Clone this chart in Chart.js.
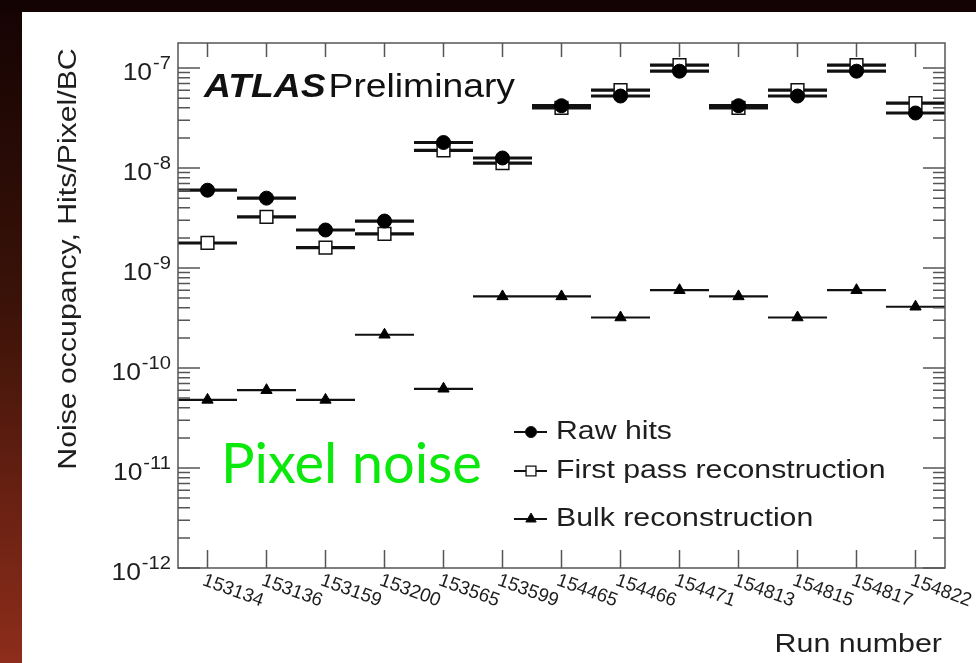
<!DOCTYPE html>
<html><head><meta charset="utf-8">
<script src="https://cdn.jsdelivr.net/npm/chart.js@4/dist/chart.umd.min.js"></script>
<style>html,body{margin:0;padding:0;background:#000;overflow:hidden} canvas{display:block}</style>
</head><body>
<canvas id="c" width="976" height="663"></canvas>
<script>
const runs = ['153134','153136','153159','153200','153565','153599','154465','154466','154471','154813','154815','154817','154822'];
const rawHits   = [6.0e-9, 5.0e-9, 2.4e-9, 2.95e-9, 1.8e-8, 1.26e-8, 4.2e-8, 5.25e-8, 9.3e-8, 4.2e-8, 5.25e-8, 9.3e-8, 3.55e-8];
const firstPass = [1.78e-9, 3.24e-9, 1.6e-9, 2.2e-9, 1.5e-8, 1.12e-8, 4.0e-8, 6.0e-8, 1.07e-7, 4.0e-8, 6.0e-8, 1.07e-7, 4.45e-8];
const bulk      = [4.8e-11, 6.0e-11, 4.8e-11, 2.15e-10, 6.2e-11, 5.2e-10, 5.2e-10, 3.2e-10, 6.0e-10, 5.2e-10, 3.2e-10, 6.0e-10, 4.1e-10];
const yTickExponents = [-12, -11, -10, -9, -8, -7];
const seriesNames = ['Raw hits', 'First pass reconstruction', 'Bulk reconstruction'];
const yTitle = 'Noise occupancy, Hits/Pixel/BC';
const xTitle = 'Run number';

const barWidths = [3.2, 3.2, 2.2];
const SANS = '"Liberation Sans", Arial, sans-serif';
const INK = '#1e1e1e';

function textScaled(ctx, txt, x, y, sx, align) {
  ctx.save();
  ctx.translate(x, y);
  ctx.scale(sx, 1);
  ctx.textAlign = align || 'left';
  ctx.fillText(txt, 0, 0);
  ctx.restore();
  return ctx.measureText(txt).width * sx;
}

const decor = {
  id: 'decor',
  beforeDraw(chart) {
    const ctx = chart.ctx;
    const g = ctx.createLinearGradient(0, 0, 0, 663);
    g.addColorStop(0, '#140303');
    g.addColorStop(0.45, '#3a1208');
    g.addColorStop(1, '#8e2d1b');
    ctx.save();
    ctx.fillStyle = g;
    ctx.fillRect(0, 0, 976, 663);
    ctx.fillStyle = '#140303';
    ctx.fillRect(0, 0, 976, 12);
    ctx.fillStyle = '#ffffff';
    ctx.fillRect(22, 12, 954, 651);
    ctx.restore();
  },
  beforeDatasetsDraw(chart) {
    const ctx = chart.ctx, xs = chart.scales.x, ys = chart.scales.y;
    const half = xs.width / runs.length / 2;
    ctx.save();
    ctx.strokeStyle = '#111';
    for (let d = chart.data.datasets.length - 1; d >= 0; d--) {
      ctx.lineWidth = barWidths[d];
      chart.data.datasets[d].data.forEach((v, i) => {
        const x = xs.getPixelForValue(i), y = ys.getPixelForValue(v);
        ctx.beginPath();
        ctx.moveTo(Math.max(x - half, xs.left), y);
        ctx.lineTo(Math.min(x + half, xs.right), y);
        ctx.stroke();
      });
    }
    ctx.restore();
  },
  afterDraw(chart) {
    const ctx = chart.ctx, xs = chart.scales.x, ys = chart.scales.y;
    const ca = chart.chartArea;
    ctx.save();
    // frame
    ctx.strokeStyle = '#555';
    ctx.lineWidth = 1.5;
    ctx.strokeRect(ca.left, ca.top, ca.right - ca.left, ca.bottom - ca.top);
    // y ticks
    ctx.beginPath();
    yTickExponents.forEach((e) => {
      for (let k = 1; k <= 9; k++) {
        const v = k * Math.pow(10, e);
        if (v > ys.max * 1.0001 || v < ys.min * 0.9999) continue;
        const y = ys.getPixelForValue(v);
        const len = k === 1 ? 22 : 12;
        ctx.moveTo(ca.left, y); ctx.lineTo(ca.left + len, y);
        ctx.moveTo(ca.right, y); ctx.lineTo(ca.right - len, y);
      }
    });
    // x ticks
    runs.forEach((r, i) => {
      const x = xs.getPixelForValue(i);
      ctx.moveTo(x, ca.bottom); ctx.lineTo(x, ca.bottom - 18);
      ctx.moveTo(x, ca.top); ctx.lineTo(x, ca.top + 14);
    });
    ctx.stroke();

    // y tick labels
    ctx.fillStyle = INK;
    yTickExponents.forEach((e) => {
      const y = ys.getPixelForValue(Math.pow(10, e));
      const rx = 171;
      ctx.font = '18px ' + SANS;
      ctx.textAlign = 'right';
      ctx.textBaseline = 'alphabetic';
      const sup = '-' + Math.abs(e);
      const sw = ctx.measureText(sup).width * 1.12;
      textScaled(ctx, sup, rx, y + 1, 1.12, 'right');
      ctx.font = '23px ' + SANS;
      textScaled(ctx, '10', rx - sw - 1, y + 12, 1.15, 'right');
    });

    // x tick labels (rotated)
    ctx.font = '19px ' + SANS;
    ctx.textAlign = 'left';
    ctx.textBaseline = 'top';
    runs.forEach((r, i) => {
      const x = xs.getPixelForValue(i);
      ctx.save();
      ctx.translate(x - 1, ca.bottom + 3);
      ctx.rotate(20 * Math.PI / 180);
      ctx.fillText(r, 0, 0);
      ctx.restore();
    });

    // axis titles
    ctx.font = '26px ' + SANS;
    ctx.textBaseline = 'alphabetic';
    textScaled(ctx, xTitle, 942, 652, 1.17, 'right');
    ctx.save();
    ctx.translate(76, 259);
    ctx.rotate(-Math.PI / 2);
    ctx.font = '25px ' + SANS;
    textScaled(ctx, yTitle, 0, 0, 1.21, 'center');
    ctx.restore();

    // ATLAS Preliminary
    ctx.fillStyle = '#111';
    ctx.font = 'italic bold 33px ' + SANS;
    const aw = textScaled(ctx, 'ATLAS', 204, 97, 1.13, 'left');
    ctx.font = '33px ' + SANS;
    textScaled(ctx, 'Preliminary', 204 + aw + 3, 97, 1.13, 'left');

    // Pixel noise
    ctx.font = '56px "Lato", "Open Sans", sans-serif';
    ctx.fillStyle = '#0be80b';
    ctx.textAlign = 'left';
    ctx.fillText('Pixel noise', 221, 483);

    // legend
    const legY = [432, 471, 519];
    const legStyles = [
      { pointStyle: 'circle', radius: 5.5, bg: '#000', bw: 1 },
      { pointStyle: 'rect', radius: 7, bg: '#fff', bw: 1.3 },
      { pointStyle: 'triangle', radius: 6, bg: '#000', bw: 1 },
    ];
    seriesNames.forEach((name, i) => {
      const y = legY[i];
      ctx.strokeStyle = '#111';
      ctx.lineWidth = 2.2;
      ctx.beginPath(); ctx.moveTo(514, y); ctx.lineTo(547, y); ctx.stroke();
      ctx.fillStyle = legStyles[i].bg;
      ctx.strokeStyle = '#111';
      ctx.lineWidth = legStyles[i].bw;
      Chart.helpers.drawPoint(ctx, { pointStyle: legStyles[i].pointStyle, radius: legStyles[i].radius, rotation: 0, borderWidth: legStyles[i].bw }, 531, y);
      ctx.fillStyle = INK;
      ctx.font = '25px ' + SANS;
      ctx.textBaseline = 'middle';
      textScaled(ctx, name, 556, y, 1.21, 'left');
    });
    ctx.restore();
  }
};

new Chart(document.getElementById('c'), {
  type: 'line',
  data: {
    labels: runs,
    datasets: [
      { label: seriesNames[0], data: rawHits, showLine: false, pointStyle: 'circle', pointRadius: 7, pointBackgroundColor: '#000', pointBorderColor: '#000', pointBorderWidth: 1 },
      { label: seriesNames[1], data: firstPass, showLine: false, pointStyle: 'rect', pointRadius: 9, pointBackgroundColor: '#fff', pointBorderColor: '#111', pointBorderWidth: 1.5 },
      { label: seriesNames[2], data: bulk, showLine: false, pointStyle: 'triangle', pointRadius: 6.5, pointBackgroundColor: '#000', pointBorderColor: '#000', pointBorderWidth: 1 },
    ]
  },
  options: {
    responsive: false,
    animation: false,
    devicePixelRatio: 1,
    layout: { padding: { left: 178, top: 43, right: 31, bottom: 95 } },
    plugins: { legend: { display: false }, tooltip: { enabled: false } },
    scales: {
      x: {
        type: 'category', offset: true,
        grid: { display: false, drawTicks: false }, border: { display: false },
        ticks: { display: false },
        afterFit: (s) => { s.height = 0; }
      },
      y: {
        type: 'logarithmic', min: 1e-12, max: 1.78e-7,
        grid: { display: false, drawTicks: false }, border: { display: false },
        ticks: { display: false },
        afterFit: (s) => { s.width = 0; }
      }
    }
  },
  plugins: [decor]
});
</script>
</body></html>
